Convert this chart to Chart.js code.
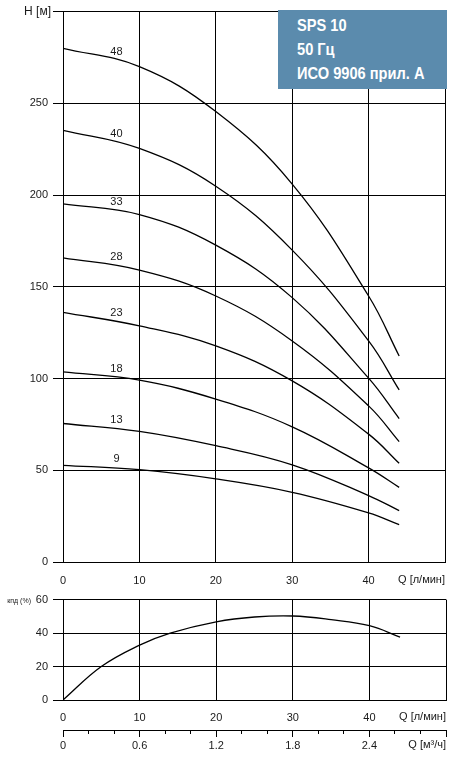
<!DOCTYPE html>
<html>
<head>
<meta charset="utf-8">
<script src="https://cdn.jsdelivr.net/npm/chart.js@4.4.1/dist/chart.umd.min.js"></script>
<style>
  body { margin: 0; background: #fff; width: 457px; height: 758px; position: relative; overflow: hidden; }
  canvas { position: absolute; left: 0; }
  #grafH { top: 0; }
  #grafKpd { top: 588px; }
  #caja {
    position: absolute; left: 278px; top: 10px; width: 169px; height: 79px;
    background: #5b8bad; color: #fff; box-sizing: border-box; padding: 4px 0 0 19px;
    font-family: "Liberation Sans", Arial, sans-serif;
    font-weight: bold; font-size: 17px; line-height: 24px; white-space: nowrap;
  }
  #caja span { display: block; transform: scaleX(0.86); transform-origin: left center; }
</style>
</head>
<body>
<canvas id="grafH" width="457" height="590"></canvas>
<canvas id="grafKpd" width="457" height="170"></canvas>
<div id="caja"><span>SPS 10</span><span>50 Гц</span><span>ИСО 9906 прил. А</span></div>
<script>
// Caudal Q [л/мин] de los puntos leídos
var q = [0, 10, 20, 30, 40, 44];

// Altura H [м] para cada número de etapas
var etapas = ['48', '40', '33', '28', '23', '18', '13', '9'];
var h48 = [280, 270, 245.5, 206, 145, 112.3];
var h40 = [235.3, 225.4, 204.8, 170, 120.5, 93.8];
var h33 = [195.2, 189.4, 172.7, 144.1, 100.2, 78.2];
var h28 = [165.8, 159.1, 145, 120.5, 85.1, 65.6];
var h23 = [136.1, 128.7, 117.8, 98.7, 69.7, 53.8];
var h18 = [103.6, 99.1, 88.8, 73.7, 51.3, 40.7];
var h13 = [75.5, 71.2, 63.4, 53, 36.2, 28];
var h9 = [52.7, 50.3, 45.3, 38, 26.8, 20.4];
var alturas = [h48, h40, h33, h28, h23, h18, h13, h9];

// Rendimiento (КПД, %)
var qKpd = [0, 5, 10, 14, 20, 25, 30, 35, 40, 44];
var kpd = [0, 20, 32.8, 40, 46.7, 49.6, 50.2, 48, 44.4, 37.6];

// Marcas de los ejes
var qTicks = [0, 10, 20, 30, 40, 50];
var qLabels = ['0', '10', '20', '30', '40', ''];
var hTicks = [0, 50, 100, 150, 200, 250, 300];
var hLabels = ['0', '50', '100', '150', '200', '250', ''];
var kpdTicks = [0, 20, 40, 60];
var kpdLabels = ['0', '20', '40', '60'];
var m3Ticks = [0, 0.2, 0.4, 0.6, 0.8, 1.0, 1.2, 1.4, 1.6, 1.8, 2.0, 2.2, 2.4, 2.6, 2.8, 3.0];
var m3Labels = ['0', '', '', '0.6', '', '', '1.2', '', '', '1.8', '', '', '2.4', '', '', ''];

var fuente = { family: 'Liberation Sans, Arial, sans-serif', size: 11 };
var colorTexto = '#1a1a1a';
var posLabelQ = 7;

function puntos(xs, ys) {
  return xs.map(function (x, i) { return { x: x, y: ys[i] }; });
}

function fijarTicks(valores) {
  return function (scale) { scale.ticks = valores.map(function (v) { return { value: v }; }); };
}

var datasetsH = alturas.map(function (serie, i) {
  return {
    label: etapas[i],
    data: puntos(q, serie),
    borderColor: '#000',
    borderWidth: 1.3,
    pointRadius: 0,
    tension: 0.4,
    fill: false
  };
});

// Textos del gráfico de altura
var textosH = {
  id: 'textosH',
  afterDraw: function (chart) {
    var ctx = chart.ctx, x = chart.scales.x, y = chart.scales.y, area = chart.chartArea;
    ctx.save();
    ctx.fillStyle = colorTexto;
    ctx.font = '11px Liberation Sans, Arial, sans-serif';
    ctx.textAlign = 'center';
    ctx.textBaseline = 'middle';
    alturas.forEach(function (serie, i) {
      var t = (posLabelQ - q[0]) / (q[1] - q[0]);
      var hv = serie[0] + (serie[1] - serie[0]) * t;
      ctx.fillText(etapas[i], x.getPixelForValue(posLabelQ), y.getPixelForValue(hv) - 9);
    });
    ctx.textAlign = 'right';
    ctx.font = '12px Liberation Sans, Arial, sans-serif';
    ctx.fillText('H [м]', area.left - 12, y.getPixelForValue(300));
    ctx.font = '11px Liberation Sans, Arial, sans-serif';
    ctx.textBaseline = 'top';
    ctx.fillText('Q [л/мин]', area.right, area.bottom + 12);
    ctx.restore();
  }
};

var configH = {
  type: 'line',
  data: { datasets: datasetsH },
  options: {
    responsive: false,
    animation: false,
    devicePixelRatio: 1,
    layout: { padding: { top: 10, right: 10, left: 0, bottom: 0 } },
    plugins: { legend: { display: false }, tooltip: { enabled: false } },
    scales: {
      x: {
        type: 'linear', min: 0, max: 50,
        afterBuildTicks: fijarTicks(qTicks),
        afterFit: function (s) { s.height = 28; },
        grid: { color: '#000', lineWidth: 1, drawTicks: false },
        border: { color: '#000', width: 1 },
        ticks: { color: colorTexto, font: fuente, padding: 12, maxRotation: 0, autoSkip: false,
          callback: function (v, i) { return qLabels[i]; } }
      },
      y: {
        type: 'linear', min: 0, max: 300,
        afterBuildTicks: fijarTicks(hTicks),
        afterFit: function (s) { s.width = 63; },
        grid: { color: '#000', lineWidth: 1, tickLength: 10 },
        border: { color: '#000', width: 1 },
        ticks: { color: colorTexto, font: fuente, padding: 5, autoSkip: false,
          callback: function (v, i) { return hLabels[i]; } }
      }
    }
  },
  plugins: [textosH]
};

// Textos y marcas menores del gráfico de rendimiento
var textosKpd = {
  id: 'textosKpd',
  afterDraw: function (chart) {
    var ctx = chart.ctx, x = chart.scales.x, x2 = chart.scales.x2, y = chart.scales.y, area = chart.chartArea;
    ctx.save();
    ctx.strokeStyle = '#000';
    ctx.lineWidth = 1;
    ctx.beginPath();
    m3Ticks.forEach(function (v, i) {
      if (i % 3 === 0) return;
      var px = Math.round(x2.getPixelForValue(v) - 0.5) + 0.5;
      ctx.moveTo(px, x2.top);
      ctx.lineTo(px, x2.top + 4);
    });
    ctx.stroke();
    ctx.fillStyle = colorTexto;
    ctx.textAlign = 'right';
    ctx.textBaseline = 'middle';
    ctx.font = '7px Liberation Sans, Arial, sans-serif';
    ctx.fillText('кпд (%)', 31, y.getPixelForValue(60) + 1);
    ctx.font = '11px Liberation Sans, Arial, sans-serif';
    ctx.textBaseline = 'top';
    ctx.fillText('Q [л/мин]', area.right, x.top + 11);
    ctx.fillText('Q [м³/ч]', area.right, x2.top + 9.5);
    ctx.restore();
  }
};

var configKpd = {
  type: 'line',
  data: {
    datasets: [{
      label: 'кпд',
      data: puntos(qKpd, kpd),
      borderColor: '#000',
      borderWidth: 1.3,
      pointRadius: 0,
      tension: 0.4,
      fill: false
    }]
  },
  options: {
    responsive: false,
    animation: false,
    devicePixelRatio: 1,
    layout: { padding: { top: 8, right: 10, left: 0, bottom: 0 } },
    plugins: { legend: { display: false }, tooltip: { enabled: false } },
    scales: {
      x: {
        type: 'linear', min: 0, max: 50, position: 'bottom',
        afterBuildTicks: fijarTicks(qTicks),
        afterFit: function (s) { s.height = 30; },
        grid: { color: '#000', lineWidth: 1, drawTicks: false },
        border: { color: '#000', width: 1 },
        ticks: { color: colorTexto, font: fuente, padding: 11, maxRotation: 0, autoSkip: false,
          callback: function (v, i) { return qLabels[i]; } }
      },
      x2: {
        type: 'linear', min: 0, max: 3, position: 'bottom',
        afterBuildTicks: fijarTicks(m3Ticks),
        afterFit: function (s) { s.height = 28; },
        grid: { drawOnChartArea: false, tickLength: 7, lineWidth: 1,
          color: function (c) { return c.index % 3 === 0 ? '#000' : 'rgba(0,0,0,0)'; } },
        border: { display: true, color: '#000', width: 1 },
        ticks: { color: colorTexto, font: fuente, padding: 2.5, maxRotation: 0, autoSkip: false,
          callback: function (v, i) { return m3Labels[i]; } }
      },
      y: {
        type: 'linear', min: 0, max: 60,
        afterBuildTicks: fijarTicks(kpdTicks),
        afterFit: function (s) { s.width = 63; },
        grid: { color: '#000', lineWidth: 1, tickLength: 10 },
        border: { color: '#000', width: 1 },
        ticks: { color: colorTexto, font: fuente, padding: 5, autoSkip: false,
          callback: function (v, i) { return kpdLabels[i]; } }
      }
    }
  },
  plugins: [textosKpd]
};

var grafH = new Chart(document.getElementById('grafH').getContext('2d'), configH);
var grafKpd = new Chart(document.getElementById('grafKpd').getContext('2d'), configKpd);
</script>
</body>
</html>
